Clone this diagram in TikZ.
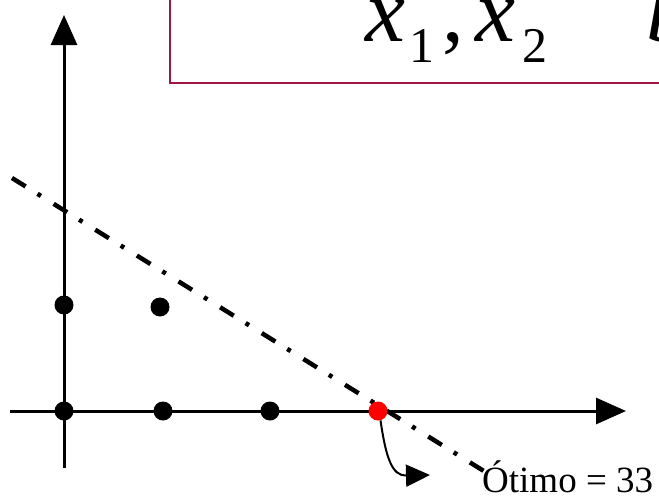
\documentclass[tikz,border=0pt]{standalone}
\usepackage{fontspec}
\setmainfont{Liberation Serif}
\usetikzlibrary{arrows.meta}
\definecolor{boxred}{RGB}{160,20,70}
\tikzset{
  axis/.style={line width=3pt,-{Triangle[width=26pt,length=30pt]}},
  pt/.style={circle,fill=black,inner sep=0pt,minimum size=19pt},
  ddline/.style={line width=4.5pt,dash pattern=on 16pt off 14pt on 4pt off 15pt},
}
\begin{document}
\begin{tikzpicture}[x=1pt,y=-1pt]
\useasboundingbox (0,0) rectangle (659,498);
\begin{scope}
\clip (0,0) rectangle (659,498);
\draw[boxred,line width=2pt] (170,-20) rectangle (700,83);
\node[anchor=base west,inner sep=0pt,font=\fontsize{90}{94}\selectfont\itshape] (xa) at (365,41) {x};
\node[anchor=base west,inner sep=0pt,font=\fontsize{50}{55}\selectfont] (s1) at (409,62) {1};
\node[anchor=base west,inner sep=0pt,font=\fontsize{87}{90}\selectfont] (cm) at (442,41) {,};
\node[anchor=base west,inner sep=0pt,font=\fontsize{90}{94}\selectfont\itshape] (xb) at (475,41) {x};
\node[anchor=base west,inner sep=0pt,font=\fontsize{50}{55}\selectfont] (s2) at (522,62) {2};
\node[anchor=base west,inner sep=0pt,font=\fontsize{90}{94}\selectfont\itshape] (bb) at (646,41) {b};
\end{scope}
\coordinate (vb) at (64,468);
\coordinate (vt) at (64,15);
\coordinate (hl) at (10,411);
\coordinate (hr) at (626,411);
\draw[axis] (vb) -- (vt);
\draw[axis] (hl) -- (hr);
\coordinate (d1) at (12,178);
\coordinate (d2) at (487,473);
\draw[ddline] (d1) -- (d2);
\node[pt] (p1) at (64,305) {};
\node[pt] (p2) at (160,307) {};
\node[pt] (p3) at (64,411) {};
\node[pt] (p4) at (163,411) {};
\node[pt] (p5) at (270,411) {};
\node[pt,fill=red] (opt) at (378,411) {};
\node[anchor=base west,inner sep=0pt,font=\fontsize{37}{40}\selectfont] (lab) at (482,492) {Ótimo = 33};
\coordinate (ae) at (430,475);
\draw[line width=2pt,-{Triangle[width=22pt,length=24pt]}] (opt.-75) .. controls (386,458) and (392,476) .. (ae);
\end{tikzpicture}
\end{document}
